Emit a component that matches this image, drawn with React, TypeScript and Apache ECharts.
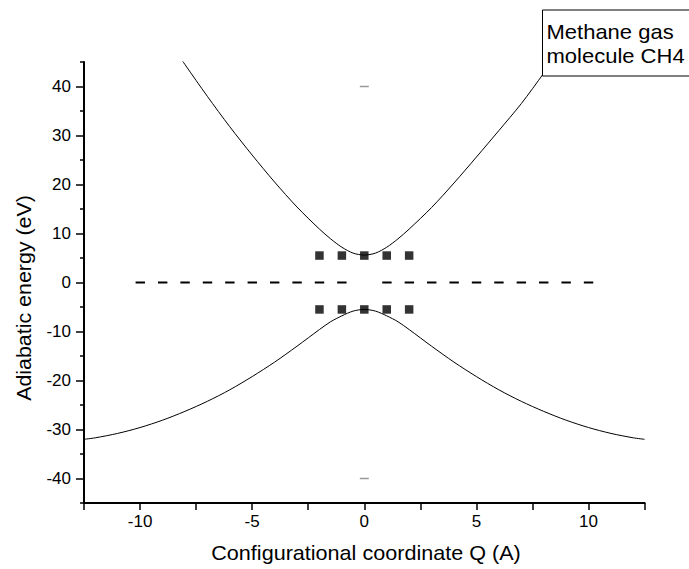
import React, { useEffect, useRef } from "react";
import * as echarts from "echarts";

// Upper adiabatic branch
const upperQ = [-8.5, -8, -7, -6, -5, -4, -3, -2, -1.5, -1, -0.5, 0, 0.5, 1, 1.5, 2, 3, 4, 5, 6, 7, 8, 8.5];
const upperE = [47.8, 44.5, 38.0, 31.8, 26.0, 20.5, 15.4, 10.9, 8.9, 7.2, 6.0, 5.6, 6.0, 7.2, 8.9, 10.9, 15.3, 20.3, 25.6, 31.0, 36.5, 42.7, 46.0];

// Lower adiabatic branch
const lowerQ = [-12.5, -12, -11, -10, -9, -8, -7, -6, -5, -4, -3, -2.5, -2, -1.5, -1, -0.5, 0, 0.5, 1, 1.5, 2, 2.5, 3, 4, 5, 6, 7, 8, 9, 10, 11, 12, 12.5];
const lowerE = [-32.0, -31.7, -30.8, -29.6, -28.1, -26.3, -24.25, -21.9, -19.2, -16.25, -13.0, -11.3, -9.6, -8.0, -6.8, -5.84, -5.5, -5.84, -6.8, -8.0, -9.6, -11.3, -13.0, -16.25, -19.2, -21.9, -24.25, -26.3, -28.1, -29.6, -30.8, -31.7, -32.0];

// Square markers
const markerQ = [-2, -1, 0, 1, 2];
const markerUpperE = [5.5, 5.5, 5.5, 5.5, 5.5];
const markerLowerE = [-5.5, -5.5, -5.5, -5.5, -5.5];

// Dashed zero line (two segments)
const zeroLeftQ = [-10.2, -0.76];
const zeroRightQ = [0.8, 10.3];

// Small gray marks
const grayQ = [0, 0];
const grayE = [40, -40];

// Tick labels and tick positions
const xTickLabels = [-10, -5, 0, 5, 10];
const xTicks = [-12.5, -10, -7.5, -5, -2.5, 0, 2.5, 5, 7.5, 10, 12.5];
const yTickLabels = [-40, -30, -20, -10, 0, 10, 20, 30, 40];
const yMinorTicks = [-45, -35, -25, -15, -5, 5, 15, 25, 35, 45];

const FONT = "'Liberation Sans', Arial, Helvetica, sans-serif";

export default function App() {
  const ref = useRef<HTMLDivElement>(null);
  useEffect(() => {
    if (!ref.current) return;
    const chart = echarts.init(ref.current, null, { renderer: "svg" });
    const zip = (a: number[], b: number[]) => a.map((v, i) => [v, b[i]]);
    chart.setOption({
      animation: false,
      backgroundColor: "#ffffff",
      grid: { left: 84, top: 62, width: 560.6, height: 441, containLabel: false },
      xAxis: {
        type: "value",
        min: -12.5,
        max: 12.5,
        interval: 2.5,
        axisLine: { show: true, onZero: false, lineStyle: { color: "#000", width: 2 } },
        axisTick: { show: true, customValues: xTicks, length: 7, lineStyle: { color: "#000", width: 1.5 } },
        axisLabel: {
          customValues: xTickLabels,
          margin: 10,
          color: "#000",
          fontSize: 17,
          fontFamily: FONT,
        },
        splitLine: { show: false },
      },
      yAxis: [
        {
          type: "value",
          min: -45,
          max: 45,
          position: "left",
          axisLine: { show: true, onZero: false, lineStyle: { color: "#000", width: 2 } },
          axisTick: { show: true, customValues: yTickLabels, length: 8, lineStyle: { color: "#000", width: 1.5 } },
          axisLabel: {
            customValues: yTickLabels,
            margin: 13,
            color: "#000",
            fontSize: 17,
            fontFamily: FONT,
          },
          splitLine: { show: false },
        },
        {
          type: "value",
          min: -45,
          max: 45,
          position: "left",
          axisLine: { show: false, onZero: false },
          axisTick: { show: true, customValues: yMinorTicks, length: 4, lineStyle: { color: "#000", width: 1.5 } },
          axisLabel: { show: false },
          splitLine: { show: false },
        },
      ],
      series: [
        {
          type: "line",
          data: zip(upperQ, upperE),
          smooth: 0.3,
          showSymbol: false,
          symbol: "none",
          lineStyle: { color: "#000", width: 1 },
          clip: true,
        },
        {
          type: "line",
          data: zip(lowerQ, lowerE),
          smooth: 0.3,
          showSymbol: false,
          symbol: "none",
          lineStyle: { color: "#000", width: 1 },
          clip: true,
        },
        {
          type: "line",
          data: zeroLeftQ.map((q) => [q, 0]),
          symbol: "none",
          lineStyle: { color: "#000", width: 2, type: [9.4, 13] },
        },
        {
          type: "line",
          data: zeroRightQ.map((q) => [q, 0]),
          symbol: "none",
          lineStyle: { color: "#000", width: 2, type: [9.4, 13] },
        },
        {
          type: "scatter",
          data: zip(markerQ, markerUpperE),
          symbol: "rect",
          symbolSize: 8.5,
          itemStyle: { color: "#000" },
          z: 5,
        },
        {
          type: "scatter",
          data: zip(markerQ, markerLowerE),
          symbol: "rect",
          symbolSize: 8.5,
          itemStyle: { color: "#000" },
          z: 5,
        },
        {
          type: "scatter",
          data: zip(grayQ, grayE),
          symbol: "rect",
          symbolSize: [9, 1.5],
          itemStyle: { color: "#808080" },
        },
      ],
      graphic: [
        {
          type: "text",
          x: 24,
          y: 298,
          rotation: Math.PI / 2,
          scaleX: 1.07,
          style: {
            text: "Adiabatic energy (eV)",
            fontSize: 20,
            fontFamily: FONT,
            fill: "#000",
            textAlign: "center",
            textVerticalAlign: "middle",
          },
        },
        {
          type: "text",
          x: 366,
          y: 553,
          scaleX: 1.08,
          style: {
            text: "Configurational coordinate Q (A)",
            fontSize: 20,
            fontFamily: FONT,
            fill: "#000",
            textAlign: "center",
            textVerticalAlign: "middle",
          },
        },
        {
          type: "rect",
          shape: { x: 542.5, y: 10, width: 170, height: 66 },
          style: { fill: "#fff", stroke: "#000", lineWidth: 1 },
          z: 100,
        },
        {
          type: "text",
          x: 546.5,
          y: 20,
          z: 101,
          scaleX: 1.1,
          style: {
            text: "Methane gas\nmolecule CH4",
            fontSize: 20,
            lineHeight: 24,
            fontFamily: FONT,
            fill: "#000",
            textAlign: "left",
            textVerticalAlign: "top",
          },
        },
      ],
    });
    return () => chart.dispose();
  }, []);
  return (
    <div
      ref={ref}
      style={{ position: "fixed", left: 0, top: 0, width: 689, height: 569 }}
    />
  );
}
